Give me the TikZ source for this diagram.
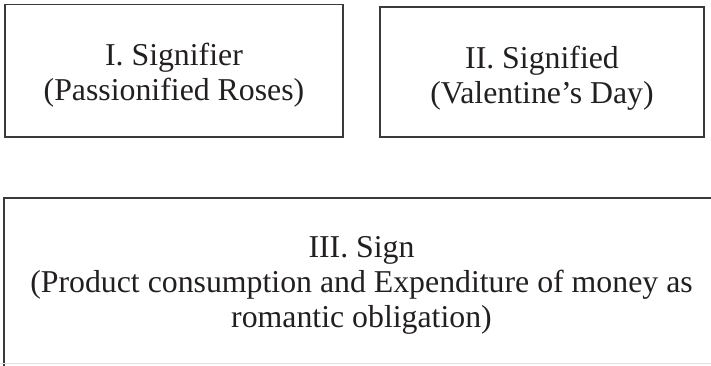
\documentclass[tikz,border=0pt]{standalone}
\usepackage{fontspec}
\setmainfont{Liberation Serif}
\definecolor{ink}{HTML}{231F20}
\definecolor{frame}{HTML}{3A3A3A}
\begin{document}
\begin{tikzpicture}[x=1pt,y=-1pt,
  boxstyle/.style={draw=frame, line width=1.9pt, rectangle, inner sep=0pt},
  txtstyle/.style={text=ink, align=center, inner sep=0pt,
    font=\fontsize{31.8}{34.8}\selectfont}]
\useasboundingbox (0,0) rectangle (711,365);
\clip (0,0) rectangle (711,365);
% boxes
\node[boxstyle, minimum width=338pt, minimum height=132.5pt] (sigA) at (174,70.75) {};
\node[boxstyle, minimum width=324pt, minimum height=130pt] (sigB) at (542,72) {};
\node[boxstyle, minimum width=715pt, minimum height=172pt] (signC) at (361.5,284) {};
% texts
\node[txtstyle] (sigAtext) at (174,75.1) {I. Signifier\\(Passionified Roses)};
\node[txtstyle] (sigBtext) at (542,78.3) {II. Signified\\(Valentine’s Day)};
\node[txtstyle] (signCtext) at (361.5,285.5) {III. Sign\\(Product consumption and Expenditure of money as\\romantic obligation)};
% faint bottom edge
\draw[black!12, line width=1pt] (0,363) -- (711,363);
\end{tikzpicture}
\end{document}
